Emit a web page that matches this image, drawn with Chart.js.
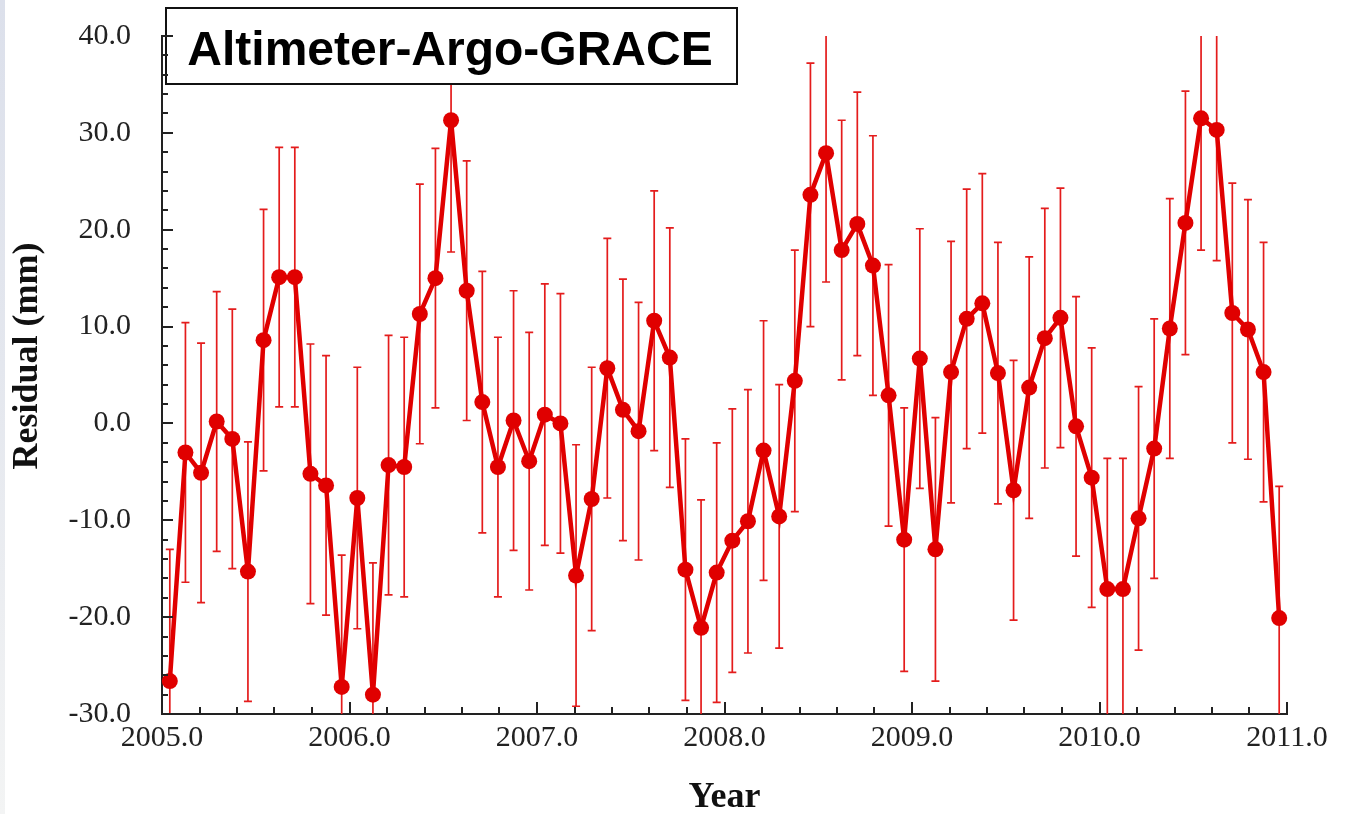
<!DOCTYPE html>
<html>
<head>
<meta charset="utf-8">
<script src="https://cdn.jsdelivr.net/npm/chart.js@4.4.0/dist/chart.umd.min.js"></script>
<style>
	html, body { margin: 0; padding: 0; background: #fff; }
	#wrap { width: 1345px; height: 814px; }
</style>
</head>
<body>
<div id="wrap"><canvas id="myChart1" width="1345" height="814"></canvas></div>
<script>
// monthly residuals, Jan 2005 .. Dec 2010 (mm)
var startYear = 2005;
var residual = [
	-26.6, -3.0, -5.1, 0.2, -1.6, -15.3, 8.6, 15.1, 15.1, -5.2, -6.4, -27.2,
	-7.7, -28.0, -4.3, -4.5, 11.3, 15.0, 31.3, 13.7, 2.2, -4.5, 0.3, -3.9,
	0.9, 0.0, -15.7, -7.8, 5.7, 1.4, -0.8, 10.6, 6.8, -15.1, -21.1, -15.4,
	-12.1, -10.1, -2.8, -9.6, 4.4, 23.6, 27.9, 17.9, 20.6, 16.3, 2.9, -12.0,
	6.7, -13.0, 5.3, 10.8, 12.4, 5.2, -6.9, 3.7, 8.8, 10.9, -0.3, -5.6,
	-17.1, -17.1, -9.8, -2.6, 9.8, 20.7, 31.5, 30.3, 11.4, 9.7, 5.3, -20.1
];
var errors = [
	13.6, 13.4, 13.4, 13.4, 13.4, 13.4, 13.5, 13.4, 13.4, 13.4, 13.4, 13.6,
	13.5, 13.6, 13.4, 13.4, 13.4, 13.4, 13.6, 13.4, 13.5, 13.4, 13.4, 13.3,
	13.5, 13.4, 13.5, 13.6, 13.4, 13.5, 13.3, 13.4, 13.4, 13.5, 13.2, 13.4,
	13.6, 13.6, 13.4, 13.6, 13.5, 13.6, 13.3, 13.4, 13.6, 13.4, 13.5, 13.6,
	13.4, 13.6, 13.5, 13.4, 13.4, 13.5, 13.4, 13.5, 13.4, 13.4, 13.4, 13.4,
	13.5, 13.5, 13.6, 13.4, 13.4, 13.6, 13.6, 13.5, 13.4, 13.4, 13.4, 13.6
];
var xTicks = [2005, 2006, 2007, 2008, 2009, 2010, 2011];
var yTicks = [-30, -20, -10, 0, 10, 20, 30, 40];
var boxTitle = "Altimeter-Argo-GRACE";
var yTitle = "Residual (mm)";

(function() {
	var red = "#e00000";
	var serif = "'Liberation Serif', 'Times New Roman', serif";

	var points = residual.map(function(v, i) {
		return { x: startYear + (i + 0.5) / 12, y: v };
	});

	var background = {
		id: 'background',
		beforeDraw: function(chart) {
			var ctx = chart.ctx;
			ctx.save();
			ctx.fillStyle = "#fff";
			ctx.fillRect(0, 0, chart.width, chart.height);
			var g = ctx.createLinearGradient(0, 0, 0, chart.height);
			g.addColorStop(0, "#dce0eb");
			g.addColorStop(0.45, "#e4e7ee");
			g.addColorStop(1, "#f3f4f4");
			ctx.fillStyle = g;
			ctx.fillRect(0, 0, 5, chart.height);
			ctx.restore();
		}
	};

	var errorBars = {
		id: 'errorBars',
		beforeDatasetsDraw: function(chart) {
			var ctx = chart.ctx, xs = chart.scales.x, ys = chart.scales.y, a = chart.chartArea;
			ctx.save();
			ctx.beginPath();
			ctx.rect(a.left, a.top, a.right - a.left, a.bottom - a.top);
			ctx.clip();
			ctx.strokeStyle = "#e41c1c";
			ctx.lineWidth = 1.7;
			points.forEach(function(p, i) {
				var px = xs.getPixelForValue(p.x);
				var top = ys.getPixelForValue(p.y + errors[i]);
				var bot = ys.getPixelForValue(p.y - errors[i]);
				ctx.beginPath();
				ctx.moveTo(px, top); ctx.lineTo(px, bot);
				ctx.moveTo(px - 4, top); ctx.lineTo(px + 4, top);
				ctx.moveTo(px - 4, bot); ctx.lineTo(px + 4, bot);
				ctx.stroke();
			});
			ctx.restore();
		}
	};

	// inward major/minor tick marks, 5 minor steps per labelled step
	var tickMarks = {
		id: 'tickMarks',
		afterDraw: function(chart) {
			var ctx = chart.ctx, xs = chart.scales.x, ys = chart.scales.y, a = chart.chartArea;
			ctx.save();
			ctx.strokeStyle = "#222";
			ctx.lineWidth = 2;
			ctx.beginPath();
			for (var i = 0; i < yTicks.length; i++) {
				for (var k = 0; k < 5; k++) {
					if (i == yTicks.length - 1 && k > 0) break;
					var v = yTicks[i] + k * (yTicks[1] - yTicks[0]) / 5;
					var py = Math.round(ys.getPixelForValue(v));
					ctx.moveTo(a.left, py);
					ctx.lineTo(a.left + (k == 0 ? 11 : 6), py);
				}
			}
			for (var j = 0; j < xTicks.length; j++) {
				for (var m = 0; m < 5; m++) {
					if (j == xTicks.length - 1 && m > 0) break;
					var xv = xTicks[j] + m * (xTicks[1] - xTicks[0]) / 5;
					var px = Math.round(xs.getPixelForValue(xv));
					ctx.moveTo(px, a.bottom);
					ctx.lineTo(px, a.bottom - (m == 0 ? 12 : 7));
				}
			}
			ctx.stroke();

			// y axis title, rotated
			ctx.translate(28, 356);
			ctx.rotate(-Math.PI / 2);
			ctx.fillStyle = "#111";
			ctx.font = "bold 36px " + serif;
			ctx.textAlign = "center";
			ctx.textBaseline = "middle";
			ctx.fillText(yTitle, 0, 0);
			ctx.restore();
		},
		afterDatasetsDraw: function(chart) {
			var ctx = chart.ctx;
			ctx.save();
			ctx.fillStyle = "#fff";
			ctx.fillRect(166, 8, 571, 76);
			ctx.strokeStyle = "#111";
			ctx.lineWidth = 2;
			ctx.strokeRect(166, 8, 571, 76);
			ctx.fillStyle = "#000";
			ctx.font = "bold 48px 'Liberation Sans', Arial, sans-serif";
			ctx.textAlign = "center";
			ctx.textBaseline = "alphabetic";
			ctx.fillText(boxTitle, 450, 65);
			ctx.restore();
		}
	};

	var ctx = document.getElementById("myChart1").getContext("2d");
	new Chart(ctx, {
		type: 'line',
		data: {
			datasets: [{
				data: points,
				borderColor: red,
				backgroundColor: red,
				borderWidth: 4.5,
				pointRadius: 8,
				pointBorderWidth: 0,
				pointBackgroundColor: red,
				tension: 0,
				clip: false
			}]
		},
		options: {
			responsive: false,
			animation: false,
			devicePixelRatio: 1,
			layout: { autoPadding: false, padding: { left: 0, top: 36, right: 58, bottom: 0 } },
			plugins: { legend: { display: false }, tooltip: { enabled: false } },
			scales: {
				x: {
					type: 'linear',
					min: 2005,
					max: 2011,
					afterBuildTicks: function(s) { s.ticks = xTicks.map(function(v) { return { value: v }; }); },
					afterFit: function(s) { s.height = 100; },
					grid: { display: false, drawTicks: false },
					border: { display: true, color: "#222", width: 2 },
					ticks: {
						padding: 6,
						color: "#222",
						maxRotation: 0,
						font: { family: serif, size: 30 },
						callback: function(v) { return v.toFixed(1); }
					},
					title: {
						display: true,
						text: "Year",
						color: "#111",
						padding: { top: 0, bottom: -5 },
						font: { family: serif, size: 36, weight: 'bold' }
					}
				},
				y: {
					min: -30,
					max: 40,
					afterBuildTicks: function(s) { s.ticks = yTicks.map(function(v) { return { value: v }; }); },
					afterFit: function(s) { s.width = 162; s.paddingTop = 0; s.paddingBottom = 0; },
					grid: { display: false, drawTicks: false },
					border: { display: true, color: "#222", width: 2 },
					ticks: {
						padding: 31,
						color: "#222",
						font: { family: serif, size: 30 },
						callback: function(v) { return v.toFixed(1); }
					}
				}
			}
		},
		plugins: [background, errorBars, tickMarks]
	});
})();
</script>
</body>
</html>
